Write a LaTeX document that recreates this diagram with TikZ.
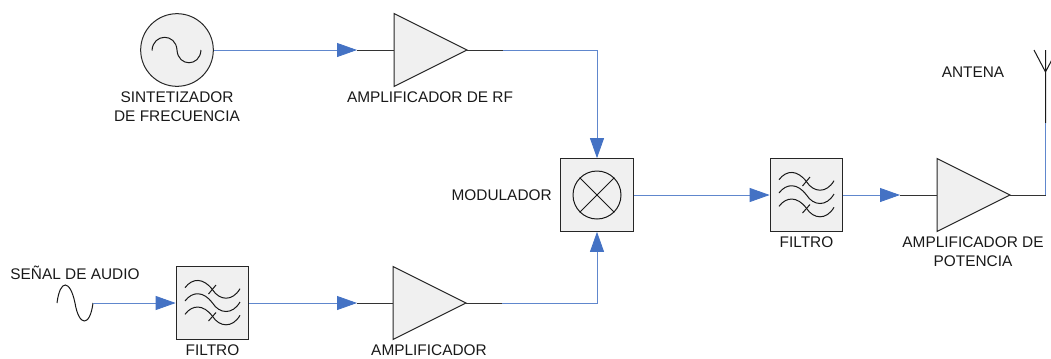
\documentclass[tikz,border=0pt]{standalone}
\usepackage{fontspec}
\setmainfont{Liberation Sans}
\usetikzlibrary{arrows.meta}
\definecolor{wire}{HTML}{4472C4}
\definecolor{bodyfill}{HTML}{F0F0F0}
\tikzset{
  x=0.75pt,y=-0.75pt,
  body/.style={draw=black!85,fill=bodyfill,line width=0.75pt},
  icon/.style={draw=black!90,line width=0.75pt},
  stub/.style={draw=black!80,line width=0.6pt},
  bluewire/.style={draw=wire!85,line width=0.6pt},
  bluearrow/.style={bluewire,-{Triangle[length=15pt,width=10.5pt,color=wire,fill=wire]}},
  lab/.style={font=\fontsize{11.55pt}{14.2pt}\selectfont,align=center,inner sep=0pt,text=black!90},
  boxnode/.style={body,rectangle,minimum width=54.5pt,minimum height=54.5pt,inner sep=0pt},
  ampnode/.pic={
    \path[body] (0,-36.5) -- (73,0) -- (0,36.5) -- cycle;
  },
  filtericon/.pic={
    \foreach \yy in {-13.3,0,13.3}{
      \draw[icon] (-27.5,\yy-2) .. controls (-20,\yy-12) and (-9,\yy-12) .. (0,\yy)
         .. controls (7,\yy+11) and (20,\yy+12) .. (27.5,\yy-1);
    }
    \draw[icon] (3.5,-18) -- (-4,-9);
    \draw[icon] (3.5,9.5) -- (-4,18);
  }
}
\begin{document}
\begin{tikzpicture}
\useasboundingbox (0,0) rectangle (1051,358);
% blocks
\node[body,circle,minimum size=54.5pt,inner sep=0pt] (synth) at (177,50) {};
\draw[icon] (152,50.5) .. controls (153,33) and (176,33) .. (177,50) .. controls (178,67) and (200,67) .. (201,50);
\node[boxnode] (mod) at (597,195) {};
\node[icon,circle,minimum size=36pt,inner sep=0pt] (modc) at (597,195) {};
\draw[icon] (modc.45) -- (modc.225) (modc.135) -- (modc.315);
\node[boxnode] (f1) at (212.5,303) {};
\pic at (212.5,303) {filtericon};
\node[boxnode] (f2) at (806.5,195) {};
\pic at (806.5,195) {filtericon};
\pic at (394,50) {ampnode};
\pic at (393,303) {ampnode};
\pic at (937,195) {ampnode};
\coordinate (a1in) at (394,50); \coordinate (a1out) at (467,50);
\coordinate (a2in) at (393,303); \coordinate (a2out) at (466,303);
\coordinate (a3in) at (937,195); \coordinate (a3out) at (1010,195);
\coordinate (a1s) at (357,50); \coordinate (a1e) at (503,50);
\coordinate (a2s) at (357,303); \coordinate (a2e) at (502,303);
\coordinate (a3s) at (900,195); \coordinate (a3e) at (1045.5,195);
\coordinate (antb) at (1045.5,123); \coordinate (antj) at (1045.5,72);
\coordinate (antt) at (1045.5,50); \coordinate (antl) at (1034,50); \coordinate (antr) at (1057,50);
\coordinate (srcs) at (57,303); \coordinate (srce) at (93,303);
% stubs
\draw[stub] (a1s) -- (a1in) (a1out) -- (a1e);
\draw[stub] (a2s) -- (a2in) (a2out) -- (a2e);
\draw[stub] (a3s) -- (a3in) (a3out) -- (a3e);
\draw[icon] (antb) -- (antt) (antl) -- (antj) -- (antr);
% source
\draw[icon] (srcs) .. controls (60,279) and (70,279) .. (75,303) .. controls (79,327) and (90,327) .. (srce);
% wires
\draw[bluearrow] (synth.east) -- (a1s);
\draw[bluearrow] (a1e) -| (mod.north);
\draw[bluearrow] (a2e) -| (mod.south);
\draw[bluearrow] (srce) -- (f1.west);
\draw[bluearrow] (f1.east) -- (a2s);
\draw[bluearrow] (mod.east) -- (f2.west);
\draw[bluearrow] (f2.east) -- (a3s);
\draw[bluewire] (a3e) -- (antb);
% labels
\node[lab] (lsynth) at (177,107) {SINTETIZADOR\\DE FRECUENCIA};
\node[lab] (la1) at (430,97) {AMPLIFICADOR DE RF};
\node[lab,anchor=east] (lmod) at (552,195) {MODULADOR};
\node[lab] (lf2) at (806.5,242.5) {FILTRO};
\node[lab] (la3) at (973,252) {AMPLIFICADOR DE\\POTENCIA};
\node[lab] (lant) at (973,72) {ANTENA};
\node[lab] (lsrc) at (75,272.5) {SEÑAL DE AUDIO};
\node[lab] (lf1) at (212.5,350.5) {FILTRO};
\node[lab] (la2) at (429,350.5) {AMPLIFICADOR};
\end{tikzpicture}
\end{document}
